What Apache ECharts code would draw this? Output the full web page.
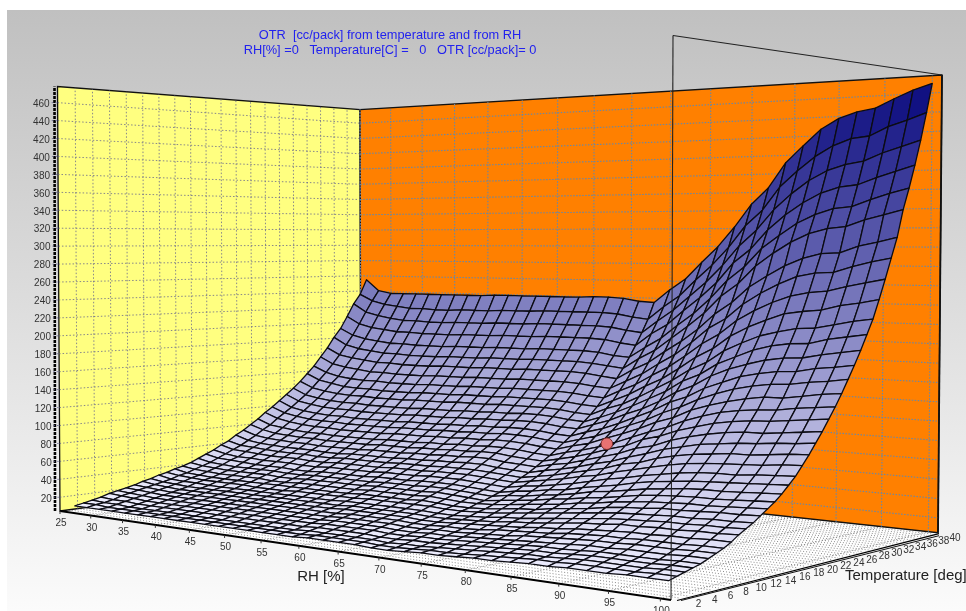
<!DOCTYPE html>
<html><head><meta charset="utf-8">
<style>html,body{margin:0;padding:0;background:#fff}#c{width:966px;height:611px}</style>
<script src="https://cdn.jsdelivr.net/npm/echarts@6/dist/echarts.min.js"></script>
</head><body><div id="c"></div>
<script>
const rhTicks=[25,30,35,40,45,50,55,60,65,70,75,80,85,90,95,100];
const tempTicks=[2,4,6,8,10,12,14,16,18,20,22,24,26,28,30,32,34,36,38,40];
const otrTicks=[20,40,60,80,100,120,140,160,180,200,220,240,260,280,300,320,340,360,380,400,420,440,460];
const rhGrid=[26,28,30,32,34,36,38,40,42,44,46,48,50,52,54,56,58,60,62,64,66,68,70,72,74,76,78,80,82,84,86,88,90,92,94,96,98,100];
const tempGrid=[1,2,3,4,5,6,7,8,9,10,11,12,13,14,15,16,17,18,19,20,21,22,23,24,25,26,27,28,29,30,31,32,33,34,35,36,37,38,39,40];
const marker=[75,24,93];
const otrByTemp=[
[10,10,10,10,10,10,10,10,10,10,10,10,10,10,10,10,10,11,11,11,11,10,10,11,12,12,13,14,14,15,16,16,17,17,17,18,18,18],
[12,12,11,11,11,11,11,11,11,11,11,11,11,11,11,11,11,12,12,12,12,11,11,12,13,13,14,15,16,17,18,18,19,19,19,19,20,20],
[14,13,13,12,12,12,12,12,12,12,12,12,12,12,12,12,13,13,13,13,13,12,13,13,14,15,16,17,18,19,19,20,21,21,21,21,22,22],
[16,15,15,14,14,14,14,14,14,14,14,14,14,14,14,14,15,15,15,15,14,14,15,15,16,17,18,19,20,21,21,22,23,23,23,23,24,24],
[19,18,17,16,16,16,16,16,16,16,16,16,16,16,16,16,17,17,17,17,16,16,17,17,18,19,20,21,22,23,23,24,25,25,25,25,26,26],
[21,20,19,18,18,18,18,18,18,18,18,18,18,18,18,18,19,19,19,19,18,18,19,19,20,21,22,23,24,25,26,27,27,28,28,28,29,29],
[23,22,21,20,20,20,20,20,20,20,20,20,20,20,20,20,21,21,21,21,20,20,21,21,22,23,24,26,27,28,29,30,30,31,31,31,32,32],
[25,24,23,22,22,22,22,22,22,22,22,22,22,22,22,22,23,23,23,23,22,22,23,23,24,26,27,28,29,31,32,33,33,34,34,34,35,35],
[28,26,25,24,24,24,24,24,24,24,24,24,24,24,24,25,25,25,25,25,24,24,25,26,27,28,29,31,32,34,35,36,37,37,38,38,39,39],
[30,28,27,26,26,26,26,26,26,26,26,26,26,26,26,27,27,27,27,27,26,26,27,28,29,31,32,34,36,38,39,41,41,42,42,43,43,44],
[33,30,29,29,28,28,28,28,28,28,28,28,28,28,29,29,29,29,29,29,28,28,29,30,32,33,35,37,39,41,43,44,45,46,46,47,47,48],
[35,33,32,31,31,31,31,30,30,30,31,31,31,31,31,32,32,32,32,32,31,31,32,33,35,37,39,41,43,45,47,48,49,50,50,51,51,52],
[38,35,34,33,33,33,33,33,33,33,33,33,33,33,34,34,34,34,35,34,33,33,34,36,38,39,42,44,46,49,51,52,54,54,55,56,56,57],
[40,38,37,36,36,36,36,35,35,36,36,36,36,36,37,37,37,37,38,37,36,36,37,39,41,43,45,48,50,53,55,57,58,59,59,60,61,62],
[43,41,40,39,39,39,39,38,38,39,39,39,39,39,40,40,40,40,41,40,39,38,40,42,44,47,49,52,54,57,60,62,63,64,64,65,66,67],
[47,44,43,42,42,42,42,41,41,42,42,42,42,42,43,43,43,44,44,43,42,41,44,45,48,50,53,57,59,62,65,67,69,70,70,71,72,73],
[51,48,47,46,45,45,45,44,44,45,45,45,45,46,46,46,47,47,47,46,45,44,47,49,52,54,58,61,64,68,71,73,75,76,77,78,79,80],
[55,52,50,50,49,49,49,48,48,49,49,49,49,50,50,50,51,51,51,50,49,48,51,53,56,59,63,67,70,74,77,80,82,83,83,85,86,87],
[60,56,55,54,53,53,53,52,52,53,53,53,53,54,54,54,55,55,55,54,53,52,55,58,61,65,68,73,77,81,85,88,90,91,92,93,95,96],
[64,60,59,58,57,57,57,56,56,57,57,57,57,58,58,58,59,59,59,58,57,56,59,62,66,70,74,80,83,89,93,96,98,100,100,102,104,105],
[70,65,63,62,61,61,61,60,60,61,61,61,61,62,62,63,63,64,64,62,61,60,64,67,71,76,80,86,91,97,101,105,107,109,110,112,113,115],
[75,70,68,67,66,66,65,65,65,65,66,66,66,67,67,68,68,69,69,67,66,65,69,72,77,82,87,94,98,105,110,114,117,119,119,121,123,125],
[81,76,73,72,71,71,70,70,70,70,71,71,71,72,72,73,73,74,74,72,71,70,74,78,83,89,94,102,107,114,119,124,127,129,130,132,134,136],
[87,81,79,77,76,76,75,75,75,75,76,76,76,77,77,78,78,79,79,78,76,75,80,84,89,95,102,109,115,123,129,134,137,139,140,143,145,147],
[94,88,85,83,82,82,81,81,81,81,82,82,82,83,83,84,84,85,85,84,82,81,86,90,97,103,110,118,124,133,139,144,148,151,151,154,157,159],
[100,94,91,89,88,88,87,87,87,87,88,88,88,89,89,90,90,91,91,90,88,87,92,97,104,111,118,127,134,143,150,156,160,163,164,167,169,172],
[107,100,97,95,94,94,93,93,93,93,94,94,94,95,95,96,96,97,97,96,94,93,99,104,111,119,127,137,144,154,161,168,172,175,176,180,182,185],
[114,107,104,102,101,101,100,100,100,100,101,101,101,102,102,103,103,104,104,103,101,100,106,112,120,127,136,147,155,166,174,180,185,188,189,193,196,199],
[121,114,111,109,108,108,107,107,107,107,108,108,108,109,109,110,110,111,111,110,108,107,113,120,128,137,146,158,166,178,186,194,199,202,203,208,211,214],
[129,122,119,117,116,116,115,115,115,116,116,116,117,117,117,118,118,118,118,117,115,114,122,128,137,147,157,169,178,191,200,208,213,217,218,222,226,229],
[138,131,128,125,124,124,123,123,123,124,124,124,125,125,125,126,126,126,126,125,123,122,130,138,148,157,169,182,192,206,216,224,231,234,236,241,244,248],
[147,140,136,134,133,133,132,132,132,133,133,133,134,134,134,135,135,135,135,134,132,131,140,148,159,169,182,196,207,222,233,242,249,253,255,260,264,268],
[158,150,147,145,143,143,142,142,142,143,143,143,144,144,144,145,145,145,145,144,142,141,150,159,171,182,196,212,223,239,251,261,269,273,274,280,285,289],
[169,161,158,156,154,154,153,153,153,154,154,154,155,155,155,156,156,156,156,155,153,151,162,171,184,196,210,227,240,257,269,280,288,293,294,301,305,310],
[182,173,169,167,165,165,164,164,164,165,165,165,166,166,166,167,167,167,167,166,164,162,174,184,198,212,227,246,260,279,293,305,314,319,321,328,333,338],
[193,185,181,179,177,177,176,176,176,177,177,177,178,178,178,179,179,179,179,178,175,174,186,197,212,226,243,263,278,298,312,325,334,340,342,349,355,360],
[208,199,195,193,191,191,190,190,190,191,191,191,192,192,192,193,193,193,193,192,189,187,201,212,228,243,260,282,297,318,334,347,357,363,365,372,378,384],
[224,214,210,207,205,205,204,204,205,205,205,206,206,206,207,207,207,207,207,206,203,201,215,228,244,260,279,301,318,340,357,371,381,387,390,398,404,410],
[236,228,224,222,220,220,219,219,220,220,220,221,221,221,222,222,222,222,222,221,218,216,231,244,262,279,299,323,340,365,382,397,408,415,417,426,432,439],
[255,241,238,238,238,238,238,238,238,238,239,239,239,239,239,239,239,240,240,239,236,235,250,263,282,300,322,347,365,392,410,427,438,444,447,456,464,470]
];

const RH_MIN=25,RH_MAX=101,T_MIN=0,T_MAX=40,Z_MIN=4.7,Z_MAX=478;
const bot={a:[60,511],b:[671,600],c:[938,532.7],d:[361,470.5]};
const top_={a:[57.5,86.5],b:[673,35.5],c:[942,75],d:[360,109.5]};
const W={a:1/424.5,b:1/564.5,c:1/457.7,d:1/361};
function homog(q,u,v){
  const k=[['a',(1-u)*(1-v)],['b',u*(1-v)],['c',u*v],['d',(1-u)*v]];
  let x=0,y=0,w=0;
  k.forEach(([n,f])=>{x+=q[n][0]*W[n]*f;y+=q[n][1]*W[n]*f;w+=W[n]*f;});
  return [x/w,y/w];
}
function project(rh,t,z){
  const u=(rh-RH_MIN)/(RH_MAX-RH_MIN),v=(t-T_MIN)/(T_MAX-T_MIN),f=(z-Z_MIN)/(Z_MAX-Z_MIN);
  const p=homog(bot,u,v),q=homog(top_,u,v);
  return [p[0]+(q[0]-p[0])*f,p[1]+(q[1]-p[1])*f];
}
function zColor(z){
  const f=Math.min(1,Math.max(0,(z-5)/465));
  const c=[240+(8-240)*f,240+(8-240)*f,255+(125-255)*f].map(Math.round);
  return 'rgb('+c.join(',')+')';
}
const cells=[];
for(let j=tempGrid.length-2;j>=0;j--)for(let i=0;i<rhGrid.length-1;i++)cells.push([i,j]);

function poly(api,pts,style){return {type:'polygon',shape:{points:pts.map(p=>api.coord(project(p[0],p[1],p[2])))},style};}
function line(api,a,b,style){const p=api.coord(project(a[0],a[1],a[2])),q=api.coord(project(b[0],b[1],b[2]));
  return {type:'line',shape:{x1:p[0],y1:p[1],x2:q[0],y2:q[1]},style};}
const dotY={stroke:'rgba(95,95,140,0.75)',lineWidth:1,lineDash:[1.5,2],fill:null};
const dotO={stroke:'rgba(105,135,165,1)',lineWidth:1.1,lineDash:[1.5,1.5],fill:null};
const dotF={stroke:'rgba(110,110,110,0.8)',lineWidth:1,lineDash:[1,2],fill:null};

function renderBack(params,api){
  const ch=[];
  ch.push(poly(api,[[RH_MIN,T_MIN,Z_MIN],[RH_MAX,T_MIN,Z_MIN],[RH_MAX,T_MAX,Z_MIN],[RH_MIN,T_MAX,Z_MIN]],{fill:'#ffffff'}));
  tempTicks.forEach(t=>ch.push(line(api,[RH_MIN,t,Z_MIN],[RH_MAX,t,Z_MIN],dotF)));
  tempTicks.forEach(t=>ch.push(line(api,[RH_MIN,t-1,Z_MIN],[RH_MAX,t-1,Z_MIN],dotF)));
  rhTicks.forEach(r=>ch.push(line(api,[r,T_MIN,Z_MIN],[r,T_MAX,Z_MIN],dotF)));
  ch.push(poly(api,[[RH_MIN,T_MIN,Z_MIN],[RH_MIN,T_MAX,Z_MIN],[RH_MIN,T_MAX,Z_MAX],[RH_MIN,T_MIN,Z_MAX]],{fill:'#ffff80',stroke:'#111',lineWidth:1.3}));
  ch.push(poly(api,[[RH_MIN,T_MAX,Z_MIN],[RH_MAX,T_MAX,Z_MIN],[RH_MAX,T_MAX,Z_MAX],[RH_MIN,T_MAX,Z_MAX]],{fill:'#ff8000',stroke:'#111',lineWidth:1.3}));
  otrTicks.forEach(z=>{
    ch.push(line(api,[RH_MIN,T_MIN,z],[RH_MIN,T_MAX,z],dotY));
    ch.push(line(api,[RH_MIN,T_MAX,z],[RH_MAX,T_MAX,z],dotO));
  });
  tempTicks.forEach(t=>ch.push(line(api,[RH_MIN,t,Z_MIN],[RH_MIN,t,Z_MAX],dotY)));
  rhTicks.forEach(r=>ch.push(line(api,[r,T_MAX,Z_MIN],[r,T_MAX,Z_MAX],dotO)));
  ch.push(line(api,[RH_MAX,T_MAX,Z_MIN],[RH_MAX,T_MAX,Z_MAX],{stroke:'#111',lineWidth:1.8}));
  return {type:'group',children:ch};
}
function renderCell(params,api){
  const i=api.value(0),j=api.value(1);
  const r0=rhGrid[i],r1=rhGrid[i+1],t0=tempGrid[j],t1=tempGrid[j+1];
  const z00=otrByTemp[j][i],z10=otrByTemp[j][i+1],z11=otrByTemp[j+1][i+1],z01=otrByTemp[j+1][i];
  return poly(api,[[r0,t0,z00],[r1,t0,z10],[r1,t1,z11],[r0,t1,z01]],
    {fill:zColor((z00+z10+z11+z01)/4),stroke:'#0c0c14',lineWidth:1.3,lineJoin:'round'});
}
const labelFont='10px "Liberation Sans", Arial, sans-serif';
function txt(p,s,font,align,fill){return {type:'text',style:{text:s,x:p[0],y:p[1],font,textAlign:align,textVerticalAlign:'middle',fill}};}
function renderFront(params,api){
  const ch=[];
  ch.push(line(api,[RH_MAX,T_MIN,Z_MIN],[RH_MAX,T_MIN,Z_MAX],{stroke:'#222',lineWidth:1.1}));
  ch.push(line(api,[RH_MAX,T_MIN,Z_MAX],[RH_MAX,T_MAX,Z_MAX],{stroke:'#222',lineWidth:1.1}));
  ch.push(line(api,[RH_MIN,T_MIN,Z_MIN],[RH_MAX,T_MIN,Z_MIN],{stroke:'#000',lineWidth:1.8}));
  rhTicks.forEach(r=>{
    const p=api.coord(project(r,T_MIN,Z_MIN));
    ch.push({type:'line',shape:{x1:p[0],y1:p[1],x2:p[0],y2:p[1]+3},style:{stroke:'#333',lineWidth:1}});
    ch.push(txt([p[0]+1,p[1]+12.5],String(r),labelFont,'center','#333'));
  });
  const t0=api.coord(project(RH_MAX,T_MIN,Z_MIN)),t1=api.coord(project(RH_MAX,T_MAX,Z_MIN));
  ch.push({type:'line',shape:{x1:t0[0]+6,y1:t0[1]+0.5,x2:t1[0]+1,y2:t1[1]+1},style:{stroke:'#000',lineWidth:1.2}});
  ch.push({type:'line',shape:{x1:t0[0]+10,y1:t0[1]+0.5,x2:t1[0]+1,y2:t1[1]+3},style:{stroke:'#111',lineWidth:1}});
  tempTicks.forEach(t=>{
    const p=api.coord(project(RH_MAX,t,Z_MIN));
    const v=(t-T_MIN)/(T_MAX-T_MIN);
    ch.push(txt([p[0]+11+6*v,p[1]+9-3.5*v],String(t),labelFont,'center','#333'));
  });
  const z0=api.coord(project(RH_MIN,T_MIN,Z_MIN)),z1=api.coord(project(RH_MIN,T_MIN,Z_MAX));
  ch.push({type:'line',shape:{x1:z0[0]-5,y1:z0[1],x2:z1[0]-3,y2:z1[1]},style:{stroke:'#000',lineWidth:2.6,lineDash:[3,1]}});
  otrTicks.forEach(z=>{
    const p=api.coord(project(RH_MIN,T_MIN,z));
    ch.push({type:'line',shape:{x1:p[0]-6,y1:p[1],x2:p[0],y2:p[1]},style:dotY});
    ch.push(txt([p[0]-8,p[1]+1.5],String(z),labelFont,'right','#333'));
  });
  const m=api.coord(project(marker[0],marker[1],marker[2]));
  ch.push({type:'circle',shape:{cx:m[0],cy:m[1],r:5.8},style:{fill:'#e87272',stroke:'#7a2a2a',lineWidth:1}});
  const nameFont='15px "Liberation Sans", Arial, sans-serif';
  const rhN=api.coord([321,577]),tN=api.coord([845,575.5]);
  ch.push(txt(rhN,'RH [%]',nameFont,'center','#222'));
  ch.push(txt(tN,'Temperature [deg]',nameFont,'left','#222'));
  return {type:'group',children:ch};
}
const chart=echarts.init(document.getElementById('c'),null,{renderer:'canvas',width:966,height:611});
chart.setOption({
  animation:false,
  backgroundColor:'#ffffff',
  title:{text:'OTR  [cc/pack] from temperature and from RH\nRH[%] =0   Temperature[C] =   0   OTR [cc/pack]= 0',
    left:385,top:23,textAlign:'center',
    textStyle:{color:'#2222ee',fontSize:12.8,fontWeight:'normal',lineHeight:15,fontFamily:'"Liberation Sans", Arial, sans-serif'}},
  graphic:[{type:'rect',z:-10,silent:true,shape:{x:7,y:10,width:959,height:601},
    style:{fill:new echarts.graphic.LinearGradient(0,0,0,1,[{offset:0,color:'#c0c0c0'},{offset:1,color:'#fbfbfb'}])}}],
  grid:{left:0,right:0,top:0,bottom:0},
  xAxis:{type:'value',min:0,max:966,show:false},
  yAxis:{type:'value',min:0,max:611,inverse:true,show:false},
  series:[
    {type:'custom',coordinateSystem:'cartesian2d',silent:true,z:1,clip:false,renderItem:renderBack,data:[[0,0]],encode:{x:0,y:1}},
    {type:'custom',coordinateSystem:'cartesian2d',silent:true,z:2,clip:false,progressive:0,renderItem:renderCell,data:cells,encode:{x:0,y:1}},
    {type:'custom',coordinateSystem:'cartesian2d',silent:true,z:3,clip:false,renderItem:renderFront,data:[[0,0]],encode:{x:0,y:1}}
  ]
});
</script></body></html>
